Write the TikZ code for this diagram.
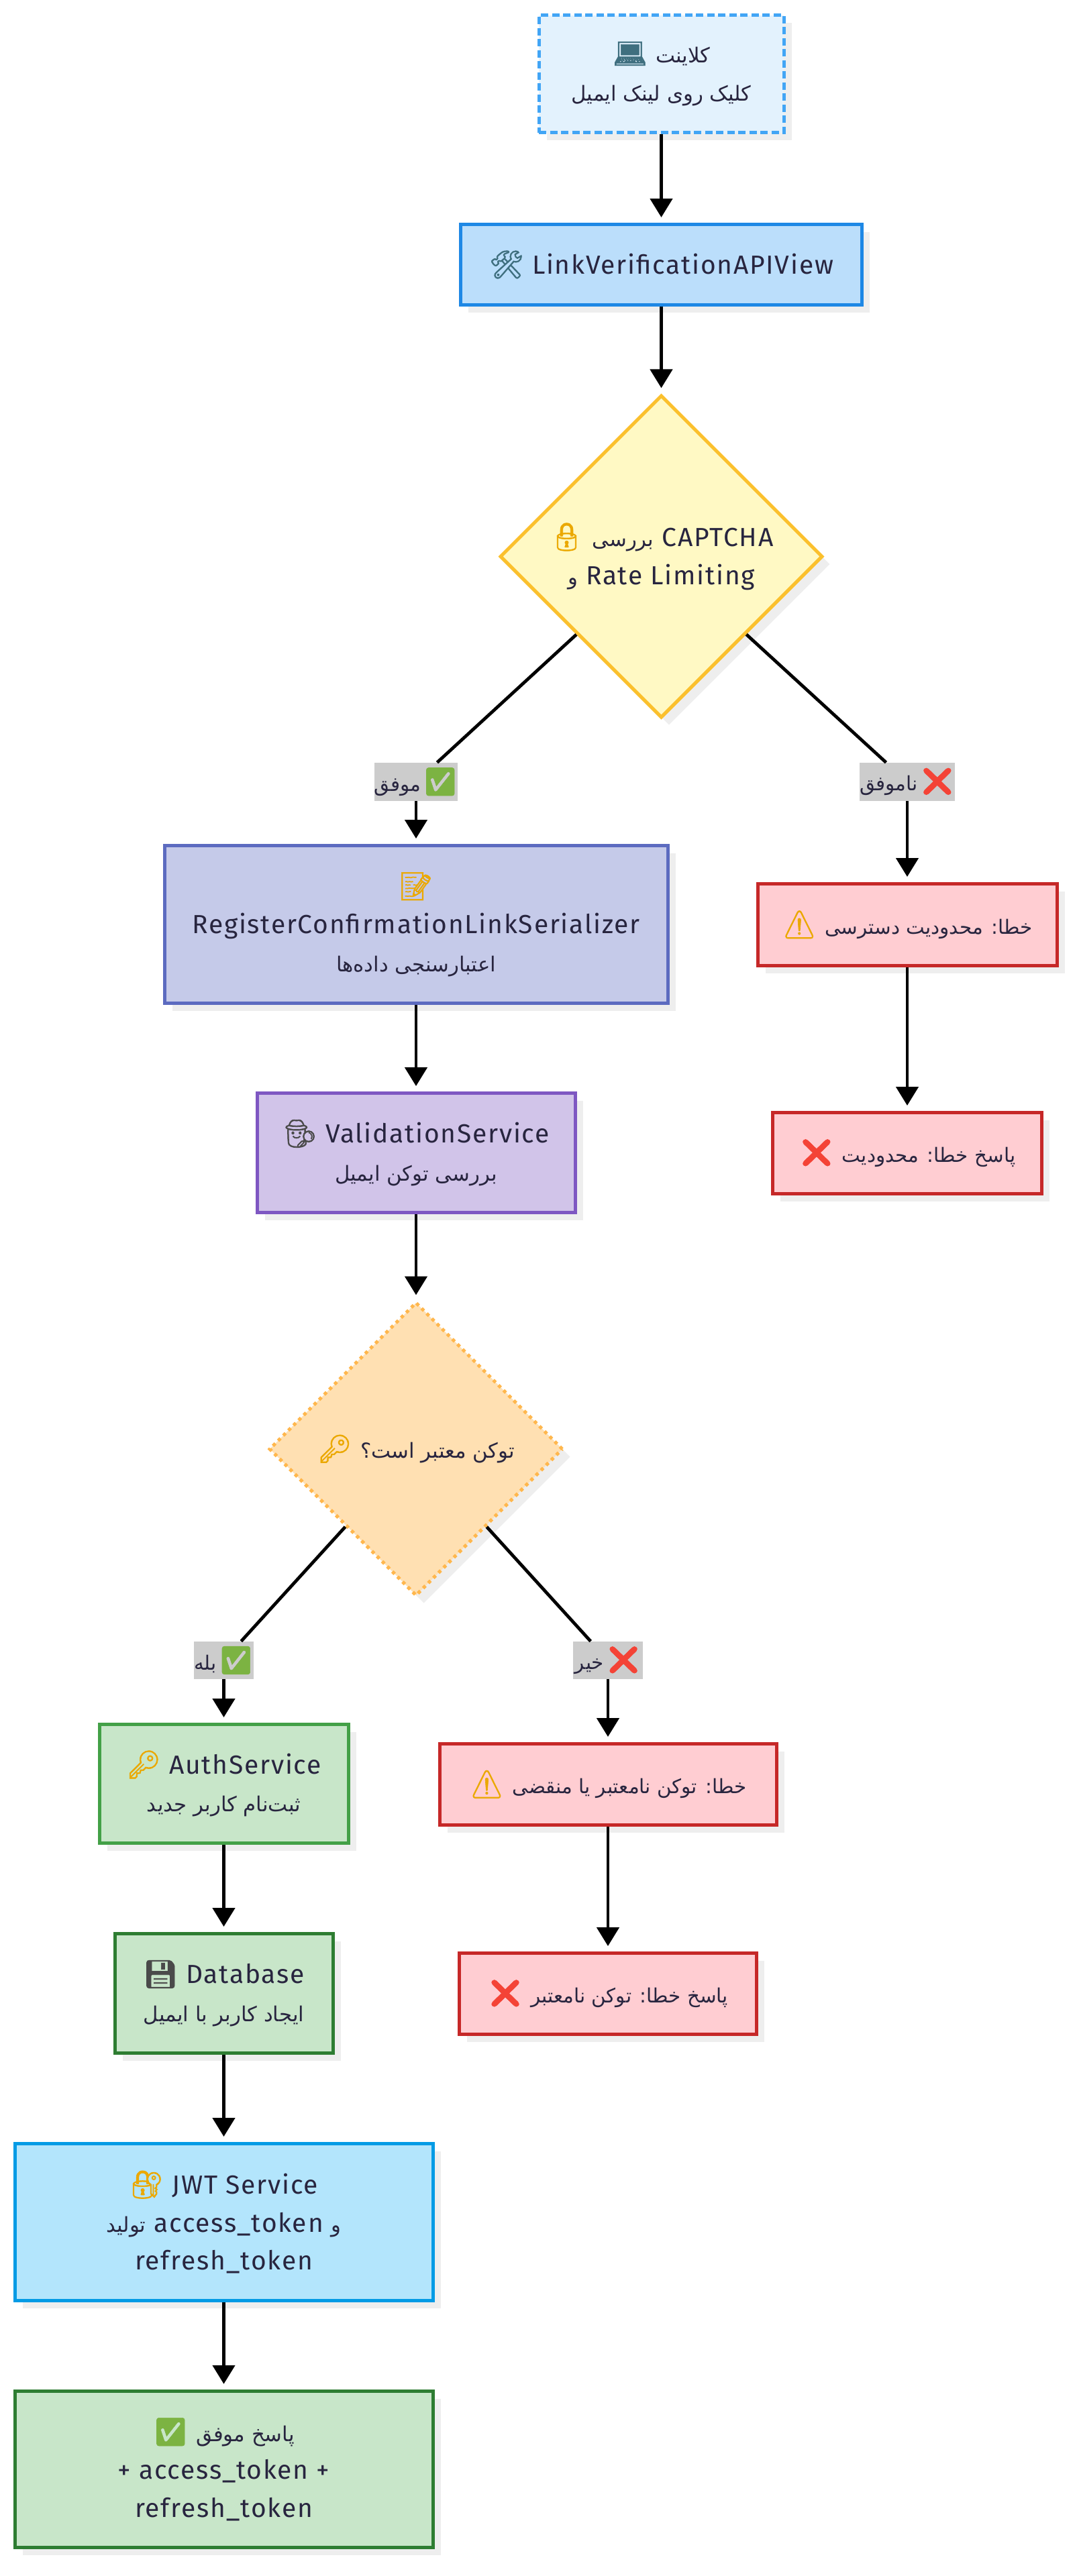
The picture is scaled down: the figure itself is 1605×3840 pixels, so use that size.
\documentclass[tikz,border=0pt]{standalone}
\usepackage{fontspec}
\usetikzlibrary{shapes.geometric,arrows.meta,shadows}
\setmainfont[LetterSpace=4.5]{Fira Sans}
\newfontfamily\fafont[Script=Arabic]{DejaVu Sans}
\newfontfamily\emofont[FakeBold=1.6]{Noto Emoji}
\TeXXeTstate=1
\definecolor{ink}{HTML}{28253F}
\definecolor{shadowc}{HTML}{EEEEEE}
\definecolor{labelbg}{HTML}{CCCCCC}
\definecolor{cE3F2FD}{HTML}{E3F2FD}\definecolor{c42A5F5}{HTML}{42A5F5}
\definecolor{cBBDEFB}{HTML}{BBDEFB}\definecolor{c1E88E5}{HTML}{1E88E5}
\definecolor{cFFF9C4}{HTML}{FFF9C4}\definecolor{cFBC02D}{HTML}{FBC02D}
\definecolor{cC5CAE9}{HTML}{C5CAE9}\definecolor{c5C6BC0}{HTML}{5C6BC0}
\definecolor{cD1C4E9}{HTML}{D1C4E9}\definecolor{c7E57C2}{HTML}{7E57C2}
\definecolor{cFFE0B2}{HTML}{FFE0B2}\definecolor{cFFB74D}{HTML}{FFB74D}
\definecolor{cFFCDD2}{HTML}{FFCDD2}\definecolor{cC62828}{HTML}{C62828}
\definecolor{cC8E6C9}{HTML}{C8E6C9}\definecolor{c43A047}{HTML}{43A047}
\definecolor{c2E7D32}{HTML}{2E7D32}
\definecolor{cB3E5FC}{HTML}{B3E5FC}\definecolor{c039BE5}{HTML}{039BE5}
\definecolor{echeck}{HTML}{7CB342}
\definecolor{ecross}{HTML}{F44336}
\definecolor{egold}{HTML}{EBA800}
\definecolor{esteel}{HTML}{3F6F7F}
\definecolor{egray}{HTML}{4A4A4A}
\newcommand{\fa}[1]{{\fafont\fontsize{15.4}{28.25}\selectfont\beginR #1\endR}}
\newcommand{\fb}[1]{{\fafont\fontsize{14.7}{28.25}\selectfont\beginR #1\endR}}
\newcommand{\emj}[2]{{\color{#1}\emofont\fontsize{20.5}{28.25}\selectfont #2}}
\newcommand{\tgap}{\hspace*{1.5pt}}
\tikzset{
  base/.style={align=center,text=ink,inner sep=0pt,font=\fontsize{19.5}{28.25}\selectfont,line width=2.5pt,
    drop shadow={shadow xshift=5.75pt,shadow yshift=-5.75pt,fill=shadowc,opacity=1}},
  box/.style n args={4}{base,rectangle,draw=c#2,fill=c#1,minimum width=#3*0.5pt-2.5pt,minimum height=#4*0.5pt-2.5pt},
  rhomb/.style n args={3}{base,diamond,aspect=1,draw=c#2,fill=c#1,minimum width=#3*0.5pt,minimum height=#3*0.5pt},
  edgelabel/.style 2 args={rectangle,fill=labelbg,text=ink,inner sep=0pt,align=center,font=\fontsize{19.5}{28.25}\selectfont,minimum width=#1*0.5pt,minimum height=#2*0.5pt},
  flow/.style={line width=2.4pt,draw=black,-{Triangle[length=14pt,width=16.5pt]},shorten >=4pt},
  plainline/.style={line width=2.4pt,draw=black},
}
\begin{document}
\begin{tikzpicture}[x=0.5pt,y=-0.5pt]
\useasboundingbox[fill=white] (0,0) rectangle (1605,3840);

\node[box={E3F2FD}{42A5F5}{370}{180},dash pattern=on 5.5pt off 2.75pt] (client) at (985.5,110) {\emj{esteel}{💻}\ \fa{کلاینت}\\\fa{کلیک روی لینک ایمیل}};
\node[box={BBDEFB}{1E88E5}{603}{125}] (link) at (985.5,394.5) {\emj{esteel}{🛠}\ LinkVerificationAPIView};
\node[rhomb={FFF9C4}{FBC02D}{481}] (d1) at (985.5,829.5) {\emj{egold}{🔒}\ \fa{بررسی} CAPTCHA\\\fa{و} Rate Limiting};
\node[edgelabel={120}{57}] (l1) at (620,1165.5) {\fb{موفق}\tgap\emj{echeck}{✅}};
\node[edgelabel={140}{57}] (l2) at (1352,1165.5) {\fb{ناموفق}\tgap\emj{ecross}{❌}};
\node[box={C5CAE9}{5C6BC0}{755}{240}] (ser) at (620,1378) {\emj{egold}{📝}\\RegisterConfirmationLinkSerializer\\\fa{اعتبارسنجی داده‌ها}};
\node[box={D1C4E9}{7E57C2}{479}{183}] (val) at (620,1718.5) {\emj{egray}{🕵}\ ValidationService\\\fa{بررسی توکن ایمیل}};
\node[rhomb={FFE0B2}{FFB74D}{438},dash pattern=on 2.5pt off 2.9pt] (d2) at (620,2160) {\emj{egold}{🔑}\ \fa{توکن معتبر است؟}};
\node[box={FFCDD2}{C62828}{451}{127}] (err1) at (1352,1378.5) {\emj{egold}{⚠}\ \fb{خطا: محدودیت دسترسی}};
\node[box={FFCDD2}{C62828}{406}{126}] (resp1) at (1352,1719) {\emj{ecross}{❌}\ \fb{پاسخ خطا: محدودیت}};
\node[edgelabel={89}{56}] (l3) at (333.5,2475) {\fb{بله}\tgap\emj{echeck}{✅}};
\node[edgelabel={104}{56}] (l4) at (906,2475) {\fb{خیر}\tgap\emj{ecross}{❌}};
\node[box={C8E6C9}{43A047}{376}{182}] (auth) at (333.5,2659) {\emj{egold}{🔑}\ AuthService\\\fa{ثبت‌نام کاربر جدید}};
\node[box={FFCDD2}{C62828}{507}{126}] (err2) at (906,2660) {\emj{egold}{⚠}\ \fb{خطا: توکن نامعتبر یا منقضی}};
\node[box={C8E6C9}{2E7D32}{330}{183}] (db) at (333.5,2971.5) {\emj{egray}{💾}\ Database\\\fa{ایجاد کاربر با ایمیل}};
\node[box={FFCDD2}{C62828}{448}{126}] (resp2) at (906,2972) {\emj{ecross}{❌}\ \fb{پاسخ خطا: توکن نامعتبر}};
\node[box={B3E5FC}{039BE5}{628}{239}] (jwt) at (333.5,3312.5) {\emj{egold}{🔐}\ JWT Service\\\fa{تولید} access\_token \fa{و}\\refresh\_token};
\node[box={C8E6C9}{2E7D32}{628}{238.5}] (succ) at (333.5,3681) {\emj{echeck}{✅}\ \fa{پاسخ موفق}\\+ access\_token +\\refresh\_token};

\draw[flow] (client) -- (link);
\draw[flow] (link) -- (d1);
\draw[plainline] (d1) -- (l1);
\draw[plainline] (d1) -- (l2);
\draw[flow] (l1) -- (ser);
\draw[flow] (l2) -- (err1);
\draw[flow] (ser) -- (val);
\draw[flow] (val) -- (d2);
\draw[flow] (err1) -- (resp1);
\draw[plainline] (d2) -- (l3);
\draw[plainline] (d2) -- (l4);
\draw[flow] (l3) -- (auth);
\draw[flow] (l4) -- (err2);
\draw[flow] (auth) -- (db);
\draw[flow] (err2) -- (resp2);
\draw[flow] (db) -- (jwt);
\draw[flow] (jwt) -- (succ);
\end{tikzpicture}
\end{document}
